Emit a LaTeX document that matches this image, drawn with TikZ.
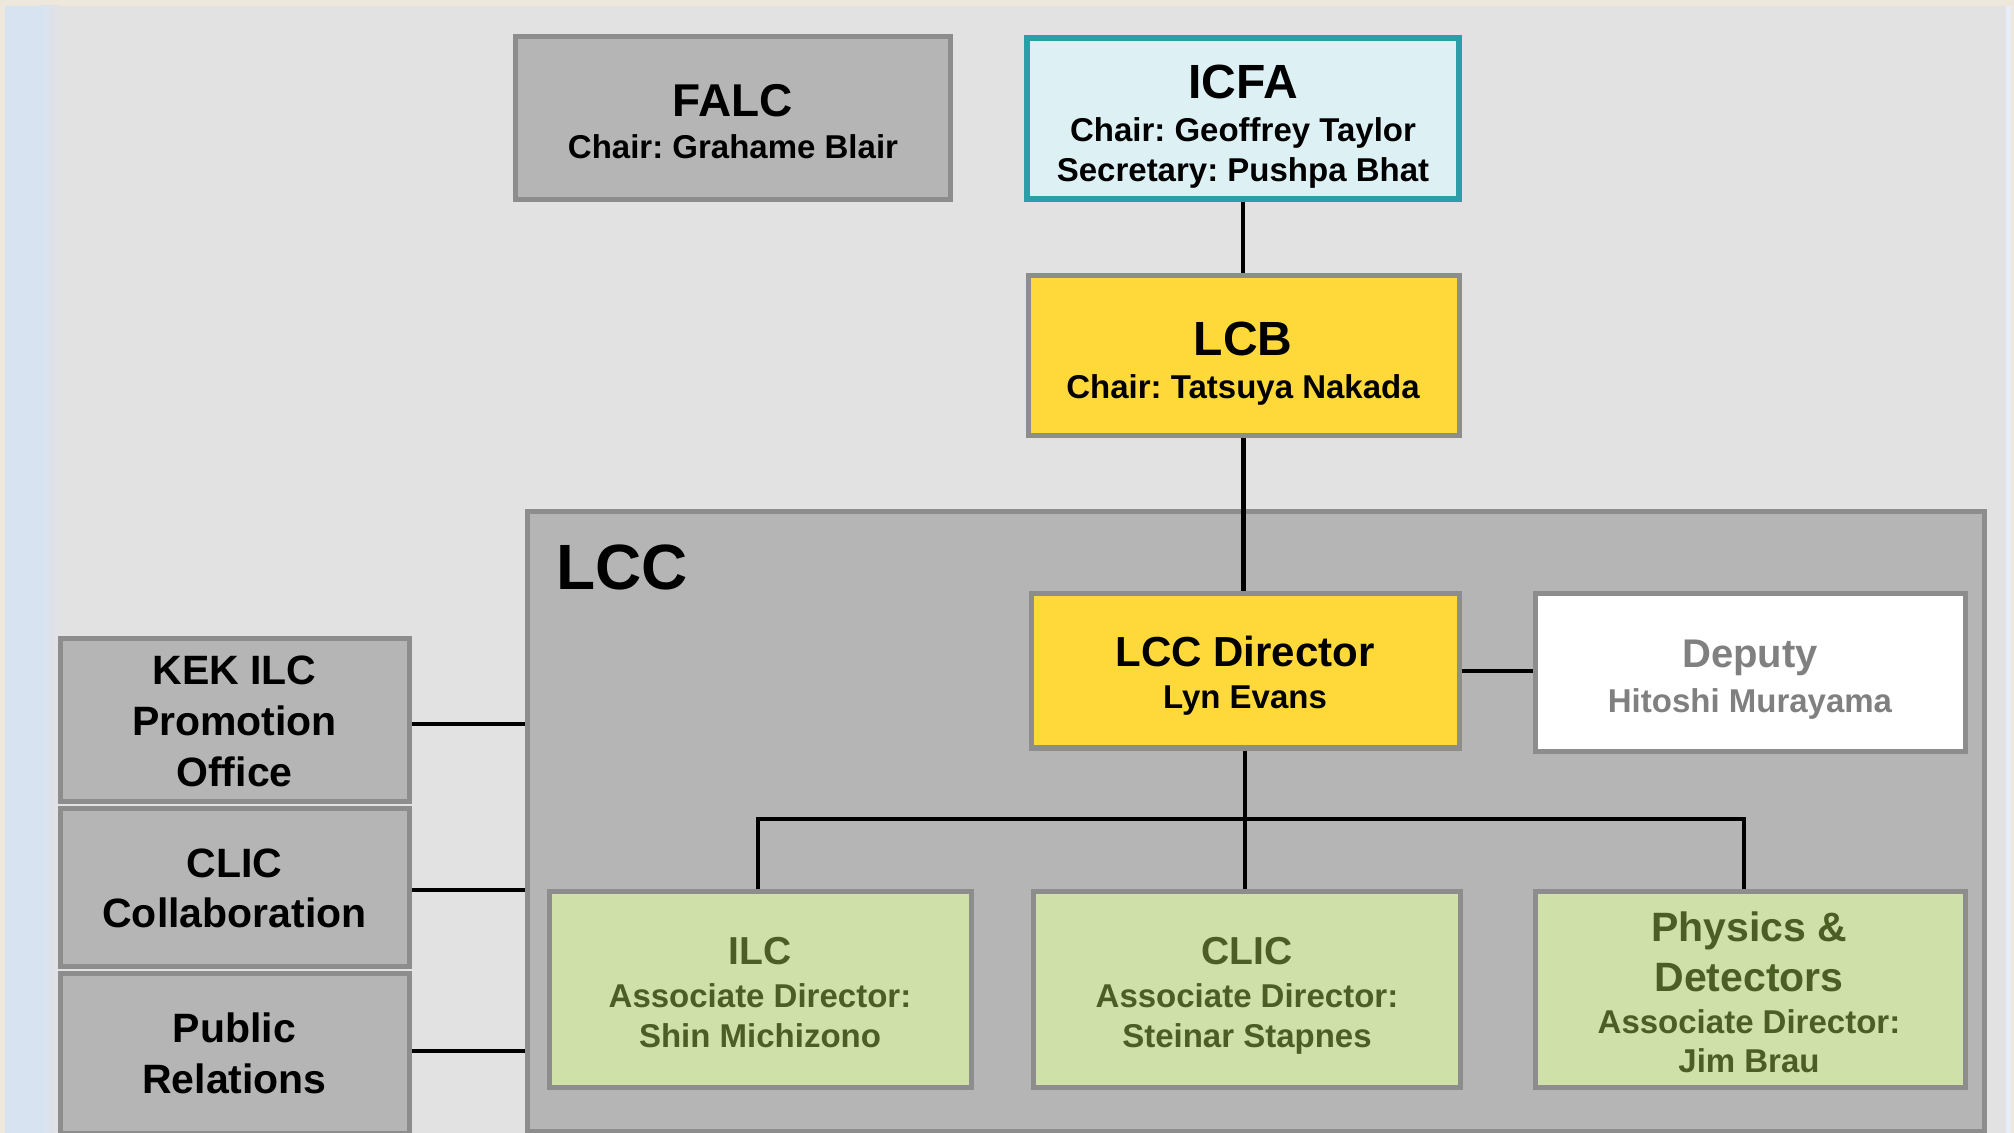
\documentclass[tikz,border=0pt]{standalone}
\usepackage{fontspec}
\setmainfont{Liberation Sans}
\frenchspacing
\definecolor{pagebg}{HTML}{EEE8DC}
\definecolor{slidebg}{HTML}{E2E2E2}
\definecolor{stripblue}{HTML}{D8E3F2}
\definecolor{boxfill}{HTML}{B5B5B5}
\definecolor{boxline}{HTML}{8D8D8D}
\definecolor{icfafill}{HTML}{DDF1F5}
\definecolor{icfaline}{HTML}{2A9FA8}
\definecolor{gold}{HTML}{FFD93A}
\definecolor{leaf}{HTML}{D0E0A9}
\definecolor{olive}{HTML}{4B5F24}
\definecolor{deptext}{HTML}{808080}
\newcommand\fsz[1]{\fontsize{#1}{#1}\selectfont\bfseries\frenchspacing}
\begin{document}
\begin{tikzpicture}[x=0.5pt,y=-0.5pt,
  box/.style={draw=boxline,line width=2.5pt,fill=boxfill,inner sep=0pt},
  txt/.style={anchor=base,inner sep=0pt},
  link/.style={draw=black,line width=2.4pt}]
\useasboundingbox (0,0) rectangle (2014,1133);
\begin{scope}
\clip (0,0) rectangle (2014,1133);
% background
\fill[pagebg] (0,0) rectangle (2014,1133);
\fill[slidebg] (5,6) rectangle (2006,1140);
\fill[stripblue] (5,6) rectangle (40,1140);
\shade[left color=stripblue,right color=slidebg] (40,6) rectangle (60,1140);
\fill[stripblue!60!white] (2006,6) rectangle (2011,1140);

% top boxes
\node[box,minimum width=217.5pt,minimum height=81.5pt] (falc) at (732.5,118.5) {};
\node[box,draw=icfaline,line width=3pt,fill=icfafill,minimum width=216pt,minimum height=80.5pt] (icfa) at (1243,118.5) {};
\node[box,fill=gold,minimum width=215.5pt,minimum height=80pt] (lcb) at (1243.5,356) {};

% LCC container
\node[box,minimum width=728.5pt,minimum height=309.5pt] (lcc) at (1255.5,821.5) {};
\node[box,fill=gold,minimum width=214pt,minimum height=77pt] (dir) at (1245,671) {};
\node[box,fill=white,minimum width=215pt,minimum height=78.5pt] (dep) at (1750,672.5) {};
\node[box,fill=leaf,minimum width=211pt,minimum height=98pt] (ilc) at (760,989) {};
\node[box,fill=leaf,minimum width=213.5pt,minimum height=98pt] (clic) at (1246.5,989) {};
\node[box,fill=leaf,minimum width=215pt,minimum height=98pt] (phys) at (1750,989) {};

% left boxes
\node[box,minimum width=174.5pt,minimum height=81pt] (kek) at (234.5,720) {};
\node[box,minimum width=174.5pt,minimum height=79pt] (collab) at (234.5,887) {};
\node[box,minimum width=174.5pt,minimum height=80pt] (pr) at (234.5,1053) {};

% connectors
\coordinate (bar) at (1247,819);
\draw[link] (icfa.south) -- (icfa.south |- lcb.north);
\draw[link] (lcb.south) -- (lcb.south |- dir.north);
\draw[link] (dir.east) -- (dir.east -| dep.west);
\draw[link] (dir.south) -- (dir.south |- clic.north);
\draw[link] ([xshift=-1pt]ilc.north) -- ([xshift=-1pt]ilc.north |- bar) -- ([xshift=-3pt]phys.north |- bar) -- ([xshift=-3pt]phys.north);
\draw[link] ([yshift=-2pt]kek.east) -- ([yshift=-2pt]kek.east -| lcc.west);
\draw[link] ([yshift=-1.5pt]collab.east) -- ([yshift=-1.5pt]collab.east -| lcc.west);
\draw[link] ([yshift=1pt]pr.east) -- ([yshift=1pt]pr.east -| lcc.west);

% texts
\node[txt,font=\fsz{23}] (falcT) at (733,116.5) {FALC};
\node[txt,font=\fsz{16.5}] (falcS) at (733,159) {Chair: Grahame Blair};
\node[txt,font=\fsz{24}] (icfaT) at (1243,99) {ICFA};
\node[txt,font=\fsz{16.5}] (icfaS1) at (1243,142) {Chair: Geoffrey Taylor};
\node[txt,font=\fsz{16.5}] (icfaS2) at (1243,182) {Secretary: Pushpa Bhat};
\node[txt,font=\fsz{24}] (lcbT) at (1243,356) {LCB};
\node[txt,font=\fsz{16.5}] (lcbS) at (1243,399) {Chair: Tatsuya Nakada};
\node[txt,anchor=base west,font=\fsz{32}] (lccT) at (556,590) {LCC};
\node[txt,font=\fsz{21}] (dirT) at (1245,667) {LCC Director};
\node[txt,font=\fsz{16.5}] (dirS) at (1245,709) {Lyn Evans};
\node[txt,text=deptext,font=\fsz{20}] (depT) at (1750,668) {Deputy};
\node[txt,text=deptext,font=\fsz{16.5}] (depS) at (1750,712) {Hitoshi Murayama};

\node[txt,font=\fsz{20.5}] (kek1) at (234.5,685) {KEK ILC};
\node[txt,font=\fsz{20.5}] (kek2) at (234.5,735) {Promotion};
\node[txt,font=\fsz{20.5}] (kek3) at (234.5,786) {Office};
\node[txt,font=\fsz{20.5}] (col1) at (234.5,877) {CLIC};
\node[txt,font=\fsz{20.5}] (col2) at (234.5,927) {Collaboration};
\node[txt,font=\fsz{20.5}] (pr1) at (234.5,1042) {Public};
\node[txt,font=\fsz{20.5}] (pr2) at (234.5,1093) {Relations};

\node[txt,text=olive,font=\fsz{19.5}] (ilcT) at (760,964) {ILC};
\node[txt,text=olive,font=\fsz{16.5}] (ilcS1) at (760,1007) {Associate Director:};
\node[txt,text=olive,font=\fsz{16.5}] (ilcS2) at (760,1047) {Shin Michizono};
\node[txt,text=olive,font=\fsz{19.5}] (clicT) at (1247,964) {CLIC};
\node[txt,text=olive,font=\fsz{16.5}] (clicS1) at (1247,1007) {Associate Director:};
\node[txt,text=olive,font=\fsz{16.5}] (clicS2) at (1247,1047) {Steinar Stapnes};
\node[txt,text=olive,font=\fsz{20.5}] (physT1) at (1749,941) {Physics \&};
\node[txt,text=olive,font=\fsz{20.5}] (physT2) at (1749,991) {Detectors};
\node[txt,text=olive,font=\fsz{16.5}] (physS1) at (1749,1033) {Associate Director:};
\node[txt,text=olive,font=\fsz{16.5}] (physS2) at (1749,1072) {Jim Brau};
\end{scope}
\end{tikzpicture}
\end{document}
